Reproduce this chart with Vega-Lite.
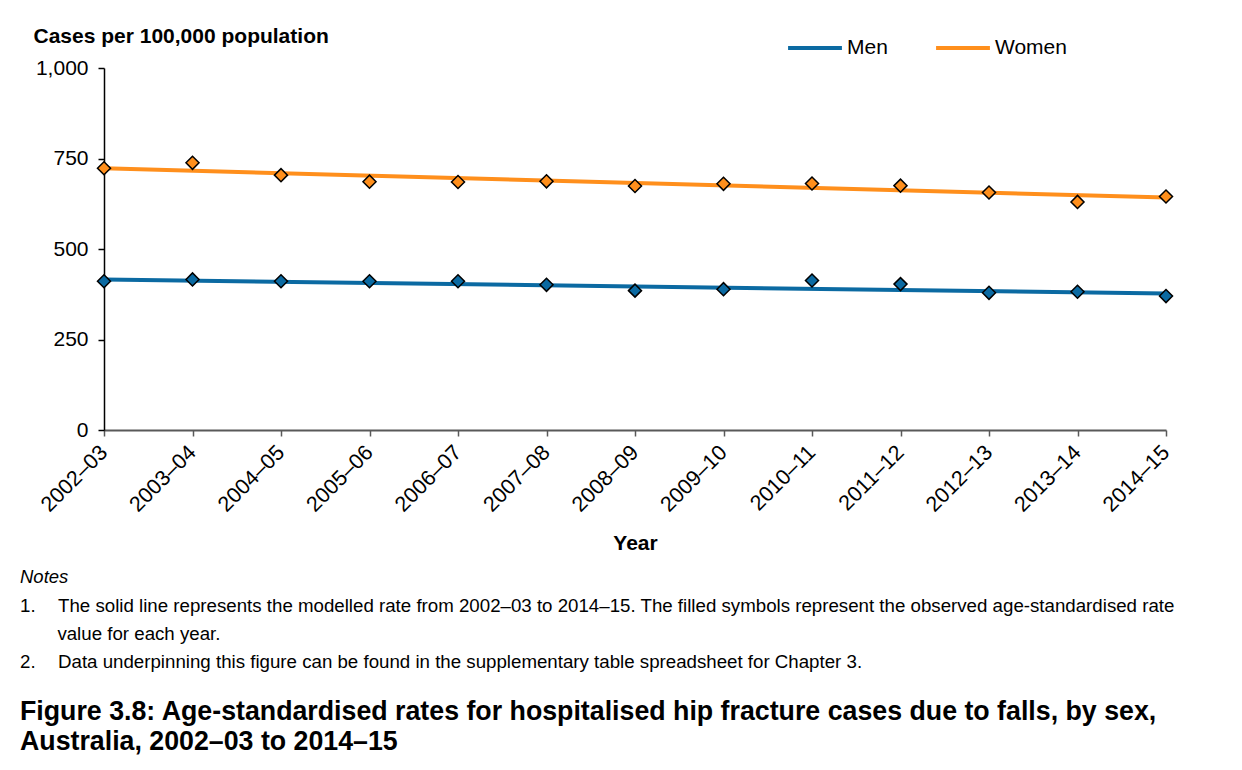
{
  "$schema": "https://vega.github.io/schema/vega-lite/v6.json",
  "background": "white",
  "padding": {"left": 20, "top": 19, "right": 5, "bottom": 5},
  "config": {
    "font": "Liberation Sans",
    "view": {"stroke": null},
    "title": {"font": "Liberation Sans", "color": "black", "subtitleColor": "black", "subtitleFont": "Liberation Sans"},
    "axis": {"labelFont": "Liberation Sans", "titleFont": "Liberation Sans", "titleColor": "black", "labelColor": "black"},
    "legend": {"labelFont": "Liberation Sans"}
  },
  "datasets": {
    "observed": [
      {"year": "2002–03", "sex": "Men", "rate": 411},
      {"year": "2003–04", "sex": "Men", "rate": 416},
      {"year": "2004–05", "sex": "Men", "rate": 411},
      {"year": "2005–06", "sex": "Men", "rate": 411},
      {"year": "2006–07", "sex": "Men", "rate": 411},
      {"year": "2007–08", "sex": "Men", "rate": 401},
      {"year": "2008–09", "sex": "Men", "rate": 385},
      {"year": "2009–10", "sex": "Men", "rate": 389},
      {"year": "2010–11", "sex": "Men", "rate": 413},
      {"year": "2011–12", "sex": "Men", "rate": 403},
      {"year": "2012–13", "sex": "Men", "rate": 379},
      {"year": "2013–14", "sex": "Men", "rate": 382},
      {"year": "2014–15", "sex": "Men", "rate": 370},
      {"year": "2002–03", "sex": "Women", "rate": 723},
      {"year": "2003–04", "sex": "Women", "rate": 738},
      {"year": "2004–05", "sex": "Women", "rate": 704},
      {"year": "2005–06", "sex": "Women", "rate": 686},
      {"year": "2006–07", "sex": "Women", "rate": 685},
      {"year": "2007–08", "sex": "Women", "rate": 687},
      {"year": "2008–09", "sex": "Women", "rate": 674},
      {"year": "2009–10", "sex": "Women", "rate": 680},
      {"year": "2010–11", "sex": "Women", "rate": 681},
      {"year": "2011–12", "sex": "Women", "rate": 675},
      {"year": "2012–13", "sex": "Women", "rate": 656},
      {"year": "2013–14", "sex": "Women", "rate": 630},
      {"year": "2014–15", "sex": "Women", "rate": 645}
    ],
    "modelled": [
      {"year": "2002–03", "sex": "Men", "rate": 416},
      {"year": "2014–15", "sex": "Men", "rate": 377},
      {"year": "2002–03", "sex": "Women", "rate": 723},
      {"year": "2014–15", "sex": "Women", "rate": 642}
    ]
  },
  "title": {
    "text": ["Figure 3.8: Age-standardised rates for hospitalised hip fracture cases due to falls, by sex,", "Australia, 2002–03 to 2014–15"],
    "orient": "bottom",
    "anchor": "start",
    "fontSize": 26.75,
    "fontWeight": "bold",
    "lineHeight": 30,
    "offset": 27
  },
  "vconcat": [
    {
      "width": 1062,
      "height": 362,
      "title": {
        "text": "Notes",
        "subtitle": [
          "1.\u2003\u2009The solid line represents the modelled rate from 2002–03 to 2014–15. The filled symbols represent the observed age-standardised rate",
          "\u200b\u2003\u2003value for each year.",
          "2.\u2003\u2009Data underpinning this figure can be found in the supplementary table spreadsheet for Chapter 3."
        ],
        "orient": "bottom",
        "anchor": "start",
        "frame": "group",
        "dx": -84,
        "fontSize": 18.5,
        "fontStyle": "italic",
        "fontWeight": "normal",
        "subtitleFontSize": 18.7,
        "subtitleLineHeight": 28,
        "subtitlePadding": 11,
        "offset": 14
      },
      "encoding": {
        "x": {
          "field": "year",
          "type": "ordinal",
          "sort": "ascending",
          "scale": {"type": "point", "padding": 0},
          "axis": {
            "title": "Year",
            "titleFontSize": 21,
            "titleFontWeight": "bold",
            "titlePadding": 17,
            "labelAngle": -45,
            "labelAlign": "right",
            "labelBaseline": "middle",
            "labelFontSize": 21.5,
            "labelPadding": 13,
            "domainColor": "#595959",
            "domainWidth": 2,
            "tickColor": "#595959",
            "tickSize": 6,
            "tickWidth": 1.5,
            "grid": false
          }
        },
        "y": {
          "field": "rate",
          "type": "quantitative",
          "scale": {"domain": [0, 1000], "nice": false, "zero": true},
          "axis": {
            "values": [0, 250, 500, 750, 1000],
            "format": ",d",
            "title": "Cases per 100,000 population",
            "titleAngle": 0,
            "titleAlign": "left",
            "titleBaseline": "alphabetic",
            "titleX": -71,
            "titleY": -26,
            "titleFontSize": 21,
            "titleFontWeight": "bold",
            "labelFontSize": 21,
            "labelPadding": 10,
            "tickSize": 6,
            "tickColor": "black",
            "tickWidth": 1.5,
            "domainColor": "black",
            "domainWidth": 1.5,
            "grid": false
          }
        }
      },
      "layer": [
        {
          "data": {"name": "modelled"},
          "mark": {"type": "line", "strokeWidth": 4},
          "encoding": {
            "color": {
              "field": "sex",
              "type": "nominal",
              "scale": {"domain": ["Men", "Women"], "range": ["#0b6aa2", "#ff8f1c"]},
              "legend": {
                "title": null,
                "orient": "none",
                "legendX": 682,
                "legendY": -49,
                "direction": "horizontal",
                "symbolType": "stroke",
                "symbolSize": 2900,
                "symbolStrokeWidth": 4,
                "labelFontSize": 21,
                "labelColor": "black",
                "columnPadding": 40,
                "labelOffset": 3
              }
            }
          }
        },
        {
          "data": {"name": "observed"},
          "mark": {"type": "point", "shape": "diamond", "filled": true, "size": 170, "stroke": "black", "strokeWidth": 1.5, "opacity": 1},
          "encoding": {
            "fill": {
              "field": "sex",
              "type": "nominal",
              "scale": {"domain": ["Men", "Women"], "range": ["#0b6aa2", "#ff8f1c"]},
              "legend": null
            }
          }
        }
      ]
    }
  ]
}
